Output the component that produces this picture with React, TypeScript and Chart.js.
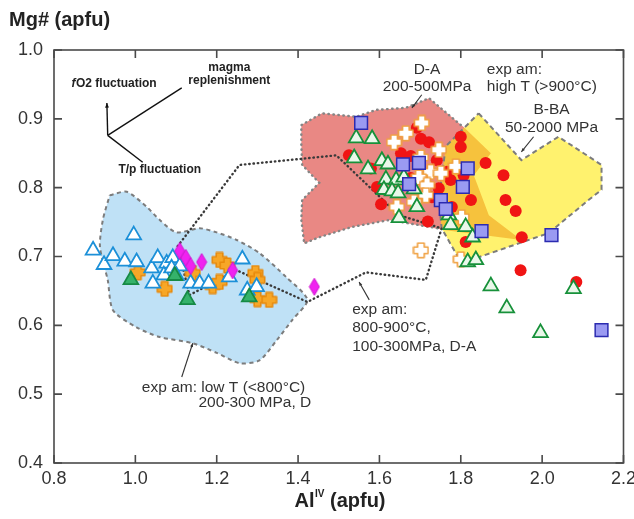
import React, { useEffect, useRef } from 'react';
import { Chart, registerables } from 'chart.js';

Chart.register(...registerables);

const FONT = "'Liberation Sans', Arial, Helvetica, sans-serif";

const X_TICKS = [0.8, 1.0, 1.2, 1.4, 1.6, 1.8, 2.0, 2.2];
const Y_TICKS = [0.4, 0.5, 0.6, 0.7, 0.8, 0.9, 1.0];

// ---- series (AlIV, Mg#) ----
const blueTriangles: [number, number][] = [
  [0.896, 0.709], [0.996, 0.731], [0.923, 0.688], [0.945, 0.701], [0.974, 0.693], [1.003, 0.692],
  [1.040, 0.683], [1.055, 0.698], [1.077, 0.690], [1.092, 0.698], [1.070, 0.673], [1.043, 0.661],
  [1.089, 0.683], [1.109, 0.686], [1.101, 0.672], [1.136, 0.661], [1.158, 0.661], [1.180, 0.661],
  [1.231, 0.670], [1.263, 0.696], [1.275, 0.651], [1.298, 0.656],
];
const greenFilledTriangles: [number, number][] = [
  [0.989, 0.666], [1.128, 0.637], [1.280, 0.641], [1.097, 0.672],
];
const orangeCrosses: [number, number][] = [
  [1.006, 0.677], [1.072, 0.653], [1.141, 0.676], [1.190, 0.657], [1.207, 0.695], [1.226, 0.687],
  [1.207, 0.663], [1.295, 0.676], [1.300, 0.666], [1.300, 0.638], [1.329, 0.637],
];
const magentaDiamonds: [number, number][] = [
  [1.109, 0.708], [1.124, 0.698], [1.136, 0.686], [1.163, 0.692], [1.239, 0.680], [1.440, 0.656],
];
const blueSquares: [number, number][] = [
  [1.555, 0.894], [1.658, 0.834], [1.697, 0.836], [1.673, 0.805], [1.817, 0.828], [1.805, 0.801],
  [1.751, 0.782], [1.763, 0.769], [1.851, 0.737], [2.023, 0.731], [2.146, 0.593],
];
const greenOpenTriangles: [number, number][] = [
  [1.543, 0.872], [1.582, 0.871], [1.538, 0.843], [1.606, 0.839], [1.621, 0.834], [1.572, 0.827],
  [1.616, 0.812], [1.641, 0.811], [1.660, 0.815], [1.611, 0.797], [1.631, 0.795], [1.646, 0.792],
  [1.685, 0.798], [1.692, 0.772], [1.648, 0.756], [1.771, 0.760], [1.775, 0.746], [1.812, 0.743],
  [1.829, 0.728], [1.817, 0.692], [1.837, 0.695], [1.874, 0.657], [1.913, 0.625], [1.996, 0.589],
  [2.077, 0.653],
];
const redCircles: [number, number][] = [
  [1.525, 0.847], [1.579, 0.828], [1.594, 0.801], [1.604, 0.776], [1.653, 0.850], [1.677, 0.846],
  [1.692, 0.887], [1.702, 0.871], [1.722, 0.866], [1.741, 0.840], [1.746, 0.799], [1.729, 0.786],
  [1.766, 0.823], [1.775, 0.811], [1.778, 0.772], [1.800, 0.874], [1.800, 0.859], [1.807, 0.818],
  [1.825, 0.782], [1.861, 0.836], [1.905, 0.818], [1.910, 0.782], [1.935, 0.766], [1.719, 0.751],
  [1.812, 0.721], [1.950, 0.728], [1.947, 0.680], [2.084, 0.663], [1.677, 0.814],
];
const whiteCrosses: [number, number][] = [
  [1.704, 0.894], [1.665, 0.879], [1.636, 0.866], [1.702, 0.844], [1.746, 0.855], [1.788, 0.831],
  [1.726, 0.823], [1.751, 0.821], [1.697, 0.815], [1.717, 0.804], [1.714, 0.789], [1.685, 0.779],
  [1.643, 0.772], [1.802, 0.757], [1.702, 0.709], [1.800, 0.696],
];

// ---- fields (outlines in data units) ----
const lowTField: [number, number][] = [
  [0.937, 0.789], [0.979, 0.794], [1.028, 0.772], [1.060, 0.753], [1.101, 0.735], [1.158, 0.741],
  [1.200, 0.735], [1.249, 0.724], [1.305, 0.705], [1.371, 0.670], [1.423, 0.637], [1.386, 0.608],
  [1.347, 0.578], [1.305, 0.549], [1.256, 0.545], [1.200, 0.560], [1.141, 0.574], [1.060, 0.583],
  [1.003, 0.597], [0.945, 0.622], [0.932, 0.666], [0.913, 0.714], [0.920, 0.753], [0.937, 0.789],
];
const daField: [number, number][] = [
  [1.408, 0.891], [1.459, 0.908], [1.543, 0.903], [1.592, 0.913], [1.665, 0.916], [1.722, 0.930],
  [1.807, 0.888], [1.874, 0.850], [1.832, 0.818], [1.869, 0.760], [1.949, 0.724], [1.763, 0.738],
  [1.624, 0.753], [1.533, 0.743], [1.452, 0.728], [1.415, 0.719], [1.408, 0.753], [1.410, 0.782],
  [1.452, 0.807], [1.410, 0.833], [1.408, 0.862], [1.408, 0.891],
];
const daOutline: [number, number][] = [
  [1.800, 0.891], [1.722, 0.930], [1.665, 0.916], [1.592, 0.913], [1.543, 0.903], [1.459, 0.908],
  [1.408, 0.891], [1.408, 0.862], [1.410, 0.833], [1.452, 0.807], [1.410, 0.782], [1.408, 0.753],
  [1.415, 0.719], [1.452, 0.728], [1.533, 0.743], [1.624, 0.753], [1.753, 0.740],
];
const bbaField: [number, number][] = [
  [1.844, 0.908], [1.949, 0.840], [2.040, 0.874], [2.146, 0.833], [2.146, 0.797], [2.114, 0.782],
  [2.016, 0.734], [1.839, 0.698], [1.800, 0.692], [1.753, 0.741], [1.746, 0.782], [1.763, 0.860],
  [1.844, 0.908],
];
const midTField: [number, number][] = [
  [1.104, 0.715], [1.256, 0.833], [1.494, 0.847], [1.648, 0.760], [1.753, 0.741], [1.714, 0.666],
  [1.567, 0.677], [1.423, 0.634], [1.249, 0.680], [1.133, 0.644], [1.104, 0.715],
];

const toXY = (arr: [number, number][]) => arr.map(([x, y]) => ({ x, y }));

function makeCross(fill: string, stroke: string) {
  const c = document.createElement('canvas');
  c.width = 17; c.height = 17;
  const g = c.getContext('2d')!;
  const m = 8.5, a = 3.3, L = 7.2;
  g.beginPath();
  g.moveTo(m - a, m - L); g.lineTo(m + a, m - L); g.lineTo(m + a, m - a); g.lineTo(m + L, m - a);
  g.lineTo(m + L, m + a); g.lineTo(m + a, m + a); g.lineTo(m + a, m + L); g.lineTo(m - a, m + L);
  g.lineTo(m - a, m + a); g.lineTo(m - L, m + a); g.lineTo(m - L, m - a); g.lineTo(m - a, m - a);
  g.closePath();
  g.lineJoin = 'round';
  g.fillStyle = fill; g.fill();
  g.strokeStyle = stroke; g.lineWidth = 1.6; g.stroke();
  return c;
}
function makeDiamond(fill: string) {
  const c = document.createElement('canvas');
  c.width = 12; c.height = 19;
  const g = c.getContext('2d')!;
  g.beginPath();
  g.moveTo(6, 1); g.lineTo(11, 9.5); g.lineTo(6, 18); g.lineTo(1, 9.5); g.closePath();
  g.fillStyle = fill; g.fill();
  g.strokeStyle = '#d010d0'; g.lineWidth = 1; g.stroke();
  return c;
}

function arrow(ctx: CanvasRenderingContext2D, x1: number, y1: number, x2: number, y2: number, head: number) {
  ctx.beginPath(); ctx.moveTo(x1, y1); ctx.lineTo(x2, y2); ctx.stroke();
  if (head > 0) {
    const ang = Math.atan2(y2 - y1, x2 - x1);
    ctx.beginPath();
    ctx.moveTo(x2, y2);
    ctx.lineTo(x2 - head * Math.cos(ang - 0.4), y2 - head * Math.sin(ang - 0.4));
    ctx.lineTo(x2 - head * Math.cos(ang + 0.4), y2 - head * Math.sin(ang + 0.4));
    ctx.closePath(); ctx.fill();
  }
}

const annotate = {
  id: 'annotate',
  afterDraw(chart: any) {
    const { ctx, chartArea: a, scales } = chart;
    const X = (v: number) => scales.x.getPixelForValue(v);
    const Y = (v: number) => scales.y.getPixelForValue(v);
    ctx.save();
    // frame and inward ticks
    ctx.strokeStyle = '#4a4a4a';
    ctx.lineWidth = 1.6;
    ctx.strokeRect(a.left, a.top, a.right - a.left, a.bottom - a.top);
    const TL = 8;
    ctx.beginPath();
    for (const v of X_TICKS) {
      const xx = X(v);
      ctx.moveTo(xx, a.bottom); ctx.lineTo(xx, a.bottom - TL);
      ctx.moveTo(xx, a.top); ctx.lineTo(xx, a.top + TL);
    }
    for (const v of Y_TICKS) {
      const yy = Y(v);
      ctx.moveTo(a.left, yy); ctx.lineTo(a.left + TL, yy);
      ctx.moveTo(a.right, yy); ctx.lineTo(a.right - TL, yy);
    }
    ctx.stroke();

    // axis titles
    ctx.fillStyle = '#222';
    ctx.textBaseline = 'middle';
    ctx.textAlign = 'left';
    ctx.font = `bold 20px ${FONT}`;
    ctx.fillText('Mg# (apfu)', 9, 20);
    const t1 = 'Al', t2 = 'IV', t3 = ' (apfu)';
    ctx.font = `bold 20px ${FONT}`;
    const w1 = ctx.measureText(t1).width, w3 = ctx.measureText(t3).width;
    ctx.font = `bold 10px ${FONT}`;
    const w2 = ctx.measureText(t2).width;
    let sx = (a.left + a.right) / 2 - (w1 + w2 + w3) / 2 + 1;
    const ty = 501;
    ctx.font = `bold 20px ${FONT}`;
    ctx.fillText(t1, sx, ty); sx += w1 + 0.5;
    ctx.font = `bold 10px ${FONT}`;
    ctx.fillText(t2, sx, ty - 7); sx += w2;
    ctx.font = `bold 20px ${FONT}`;
    ctx.fillText(t3, sx, ty);

    // process arrows
    ctx.strokeStyle = '#111'; ctx.fillStyle = '#111'; ctx.lineWidth = 1.4;
    const ox = X(0.932), oy = Y(0.876);
    arrow(ctx, ox, oy, X(0.930), Y(0.923), 5);
    arrow(ctx, ox, oy, X(1.114), Y(0.945), 0);
    arrow(ctx, ox, oy, X(1.018), Y(0.837), 0);

    ctx.fillStyle = '#222';
    ctx.font = `bold 12px ${FONT}`;
    ctx.textAlign = 'center';
    ctx.fillText('magma', X(1.231), Y(0.974));
    ctx.fillText('replenishment', X(1.231), Y(0.956));
    ctx.fillText('T/p fluctuation', X(1.060), Y(0.826));
    // fO2 fluctuation with italic f
    ctx.textAlign = 'left';
    ctx.font = `italic bold 12px ${FONT}`;
    const wf = ctx.measureText('f').width;
    ctx.font = `bold 12px ${FONT}`;
    const wr = ctx.measureText('O2 fluctuation').width;
    const fx = X(0.947) - (wf + wr) / 2;
    ctx.font = `italic bold 12px ${FONT}`;
    ctx.fillText('f', fx, Y(0.951));
    ctx.font = `bold 12px ${FONT}`;
    ctx.fillText('O2 fluctuation', fx + wf + 0.5, Y(0.951));

    // field labels
    ctx.fillStyle = '#333';
    ctx.font = `15.5px ${FONT}`;
    ctx.textAlign = 'center';
    ctx.fillText('D-A', X(1.717), Y(0.971));
    ctx.fillText('200-500MPa', X(1.717), Y(0.946));
    ctx.fillText('B-BA', X(2.023), Y(0.913));
    ctx.fillText('50-2000 MPa', X(2.023), Y(0.887));
    ctx.textAlign = 'left';
    ctx.fillText('exp am:', X(1.864), Y(0.971));
    ctx.fillText('high T (>900°C)', X(1.864), Y(0.946));
    ctx.fillText('exp am:', X(1.533), Y(0.622));
    ctx.fillText('800-900°C,', X(1.533), Y(0.596));
    ctx.fillText('100-300MPa, D-A', X(1.533), Y(0.569));
    ctx.fillText('exp am: low T (<800°C)', X(1.016), Y(0.510));
    ctx.fillText('200-300 MPa, D', X(1.155), Y(0.488));

    // leader lines
    ctx.strokeStyle = '#333'; ctx.fillStyle = '#333'; ctx.lineWidth = 1.1;
    arrow(ctx, X(1.704), Y(0.935), X(1.680), Y(0.916), 4);
    arrow(ctx, X(1.979), Y(0.874), X(1.949), Y(0.852), 4);
    arrow(ctx, X(1.575), Y(0.637), X(1.550), Y(0.663), 4);
    arrow(ctx, X(1.114), Y(0.525), X(1.141), Y(0.574), 4);
    ctx.restore();
  },
};

export default function App() {
  const ref = useRef<HTMLCanvasElement | null>(null);
  useEffect(() => {
    document.body.style.margin = '0';
    const canvas = ref.current!;
    const orangeCross = makeCross('#f7a727', '#e88a0c');
    const whiteCross = makeCross('#ffffff', '#f0a040');
    const diamond = makeDiamond('#f022f0');

    const field = (data: [number, number][], fill: string | false, bg: string, border: string, dash: number[], width: number, order: number, tension = 0, cap: any = 'butt') => ({
      data: toXY(data), showLine: true, fill: fill, backgroundColor: bg, borderColor: border,
      borderDash: dash, borderWidth: width, borderCapStyle: cap, pointRadius: 0, pointHoverRadius: 0,
      tension, order,
    });

    const chart = new Chart(canvas, {
      type: 'scatter',
      data: {
        datasets: [
          field(lowTField, 'shape', '#bfe1f6', '#7c7c7c', [4, 3.5], 2, 30, 0.25),
          field(daField, 'shape', '#e98884', 'rgba(0,0,0,0)', [], 0, 29),
          field(daOutline, false, 'rgba(0,0,0,0)', '#858585', [0.5, 4.5], 2.4, 28, 0, 'round'),
          field(bbaField, 'shape', 'rgba(255,233,13,0.6)', '#7c7c7c', [5, 3.5], 2, 27),
          field(midTField, false, 'rgba(0,0,0,0)', '#3a3a3a', [0.5, 3.8], 2.4, 26, 0, 'round'),
          { data: toXY(orangeCrosses), pointStyle: orangeCross, pointRadius: 8, order: 9 },
          { data: toXY(redCircles), pointStyle: 'circle', pointRadius: 6, backgroundColor: '#f01414', borderColor: '#f01414', borderWidth: 0, order: 8 },
          { data: toXY(whiteCrosses), pointStyle: whiteCross, pointRadius: 8, order: 7 },
          { data: toXY(blueTriangles), pointStyle: 'triangle', pointRadius: 8.5, backgroundColor: '#ffffff', borderColor: '#1c90d8', borderWidth: 1.8, order: 6 },
          { data: toXY(greenFilledTriangles), pointStyle: 'triangle', pointRadius: 8.5, backgroundColor: '#35b26a', borderColor: '#168a45', borderWidth: 1.8, order: 5 },
          { data: toXY(greenOpenTriangles), pointStyle: 'triangle', pointRadius: 8.5, backgroundColor: '#eaf8ea', borderColor: '#17913a', borderWidth: 1.8, order: 4 },
          { data: toXY(magentaDiamonds), pointStyle: diamond, pointRadius: 8, order: 3 },
          { data: toXY(blueSquares), pointStyle: 'rect', pointRadius: 9, backgroundColor: '#9a9af2', borderColor: '#2b2bb0', borderWidth: 1.5, order: 2 },
        ] as any,
      },
      options: {
        animation: false,
        responsive: false,
        events: [],
        layout: { padding: { left: 8, top: 50, right: 9, bottom: 0 } },
        plugins: { legend: { display: false }, tooltip: { enabled: false } },
        scales: {
          x: {
            type: 'linear', min: 0.8, max: 2.2,
            grid: { display: false, drawTicks: false }, border: { display: false },
            ticks: { font: { family: FONT, size: 18 }, color: '#333', padding: 5, callback: (v: any) => Number(v).toFixed(1) },
            afterBuildTicks: (s: any) => { s.ticks = X_TICKS.map((value) => ({ value })); },
            afterFit: (s: any) => { s.height = 56; s.paddingLeft = 0; s.paddingRight = 0; },
          },
          y: {
            type: 'linear', min: 0.4, max: 1.0,
            grid: { display: false, drawTicks: false }, border: { display: false },
            ticks: { font: { family: FONT, size: 18 }, color: '#333', padding: 11, callback: (v: any) => Number(v).toFixed(1) },
            afterBuildTicks: (s: any) => { s.ticks = Y_TICKS.map((value) => ({ value })); },
            afterFit: (s: any) => { s.width = 46; s.paddingTop = 0; s.paddingBottom = 0; },
          },
        },
      } as any,
      plugins: [annotate],
    });
    return () => chart.destroy();
  }, []);
  return (
    <div style={{ width: 634, height: 519 }}>
      <canvas ref={ref} width={634} height={519} style={{ display: 'block' }} />
    </div>
  );
}
